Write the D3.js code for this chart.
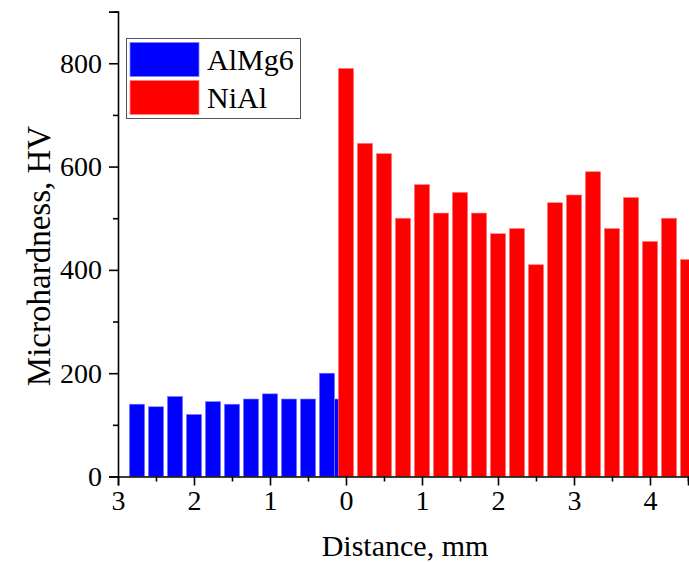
<!DOCTYPE html>
<html>
<head>
<meta charset="utf-8">
<script src="https://cdn.jsdelivr.net/npm/d3@7"></script>
<style>
html,body{margin:0;padding:0;background:#fff;}
svg{display:block;}
text{font-family:"Liberation Serif","Times New Roman",serif;fill:#000;}
</style>
</head>
<body>
<svg id="chart" width="689" height="562"></svg>
<script>
// Data
const seriesNames = ["AlMg6", "NiAl"];
const almgPositions = [-2.75, -2.5, -2.25, -2, -1.75, -1.5, -1.25, -1, -0.75, -0.5, -0.25, -0.05];
const almgValues = [140, 135, 155, 120, 145, 140, 150, 160, 150, 150, 200, 150];
const nialPositions = [0, 0.25, 0.5, 0.75, 1, 1.25, 1.5, 1.75, 2, 2.25, 2.5, 2.75, 3, 3.25, 3.5, 3.75, 4, 4.25, 4.5];
const nialValues = [790, 645, 625, 500, 565, 510, 550, 510, 470, 480, 410, 530, 545, 590, 480, 540, 455, 500, 420];
const xMajorTicks = [-3, -2, -1, 0, 1, 2, 3, 4];
const xMinorTicks = [-2.5, -1.5, -0.5, 0.5, 1.5, 2.5, 3.5, 4.5];
const yMajorTicks = [0, 200, 400, 600, 800];
const yMinorTicks = [100, 300, 500, 700, 900];
const xTitle = "Distance, mm";
const yTitle = "Microhardness, HV";

const svg = d3.select("#chart");
const x = d3.scaleLinear().domain([-3, 4.5]).range([118, 688]);
const y = d3.scaleLinear().domain([0, 900]).range([476.5, 11.6]);
const barW = x(0.2) - x(0);

// bars
const g = svg.append("g");
g.selectAll("rect.almg").data(almgPositions.map((p, i) => ({p, v: almgValues[i]})))
  .join("rect").attr("class", "almg")
  .attr("x", d => x(d.p) - barW / 2).attr("width", barW)
  .attr("y", d => y(d.v)).attr("height", d => y(0) - y(d.v))
  .attr("fill", "#0000ff").attr("stroke", "#8080ff").attr("stroke-width", 0.6);
g.selectAll("rect.nial").data(nialPositions.map((p, i) => ({p, v: nialValues[i]})))
  .join("rect").attr("class", "nial")
  .attr("x", d => x(d.p) - barW / 2).attr("width", barW)
  .attr("y", d => y(d.v)).attr("height", d => y(0) - y(d.v))
  .attr("fill", "#ff0000").attr("stroke", "#ff8080").attr("stroke-width", 0.6);

// y axis
const yAxis = svg.append("g").attr("transform", `translate(${x(-3)},0)`);
yAxis.call(d3.axisLeft(y).tickValues(yMajorTicks).tickSize(9).tickPadding(7).tickFormat(d3.format("d")));
yAxis.append("g").call(d3.axisLeft(y).tickValues(yMinorTicks).tickSize(5).tickFormat(""))
  .select(".domain").remove();
yAxis.selectAll(".domain").attr("stroke", "#000").attr("stroke-width", 1.6);
yAxis.selectAll(".tick line").attr("stroke", "#000").attr("stroke-width", 1.6);
yAxis.selectAll("text").style("font-size", "28px").attr("fill", "#000");

// x axis
const xAxis = svg.append("g").attr("transform", `translate(0,${y(0)})`);
xAxis.call(d3.axisBottom(x).tickValues(xMajorTicks).tickSize(9).tickPadding(5).tickFormat(d => Math.abs(d)));
xAxis.append("g").call(d3.axisBottom(x).tickValues(xMinorTicks).tickSize(5).tickFormat(""))
  .select(".domain").remove();
xAxis.selectAll(".domain").attr("stroke", "#000").attr("stroke-width", 1.6);
xAxis.selectAll(".tick line").attr("stroke", "#000").attr("stroke-width", 1.6);
xAxis.selectAll("text").style("font-size", "28px").attr("fill", "#000");

// titles
svg.append("text").attr("x", 405).attr("y", 556).attr("text-anchor", "middle")
  .style("font-size", "30px").text(xTitle);
svg.append("text").attr("transform", "translate(50,256) rotate(-90)").attr("text-anchor", "middle")
  .style("font-size", "33px").text(yTitle);

// legend
const leg = svg.append("g");
leg.append("rect").attr("x", 126.5).attr("y", 38.5).attr("width", 174).attr("height", 80)
  .attr("fill", "#fff").attr("stroke", "#555").attr("stroke-width", 1);
const legColors = [["#0000ff", "#8080ff"], ["#ff0000", "#ff8080"]];
seriesNames.forEach((n, i) => {
  leg.append("rect").attr("x", 130).attr("y", 42.5 + i * 38).attr("width", 69).attr("height", 34)
    .attr("fill", legColors[i][0]).attr("stroke", legColors[i][1]).attr("stroke-width", 0.8);
  leg.append("text").attr("x", 207).attr("y", 70 + i * 38).style("font-size", "30px").text(n);
});
</script>
</body>
</html>
